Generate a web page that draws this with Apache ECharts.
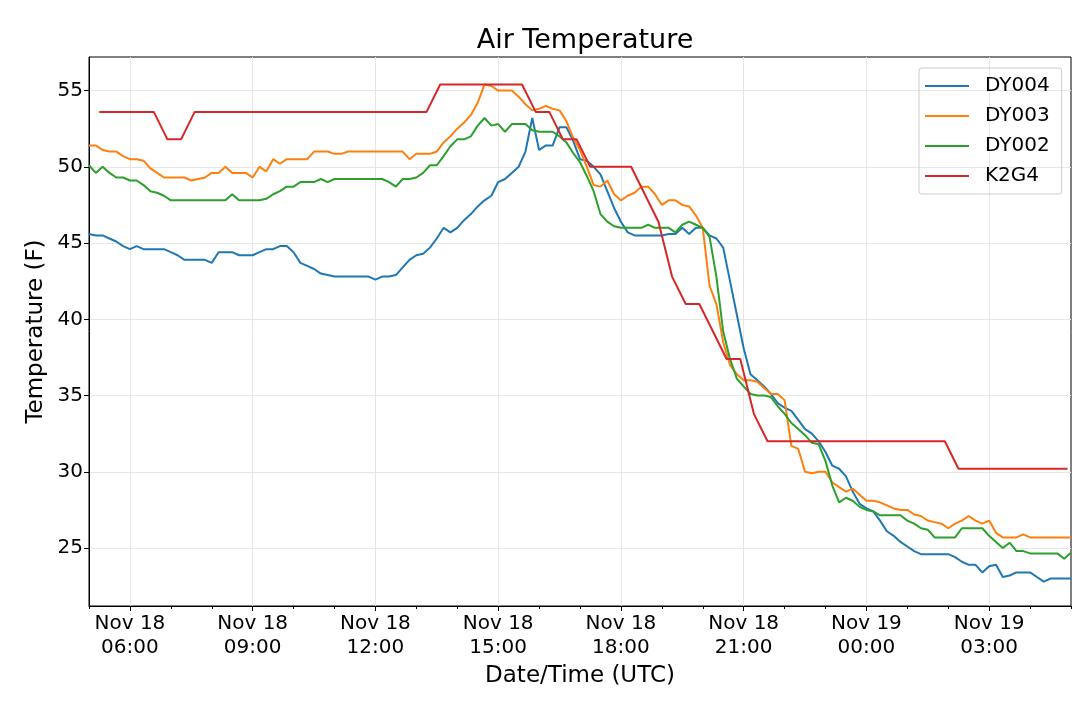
<!DOCTYPE html>
<html style="height: 100%">
<head>
<meta charset="utf-8" />
<title>Air Temperature</title>
<script type="text/javascript" src="https://cdn.jsdelivr.net/npm/echarts@6/dist/echarts.min.js"></script>
</head>
<body style="height: 100%; margin: 0; background: #fff">
<div id="container" style="width: 1080px; height: 702px"></div>
<script type="text/javascript">
// hours since Nov 18 00:00 UTC
var dyStartHour = 5;
var dyStepHour = 1 / 6;      // DY stations report every 10 min
var k2g4StartHour = 5.25;
var k2g4StepHour = 1 / 3;    // K2G4 every 20 min

var dy004 = [
  45.6, 45.5, 45.5, 45.3, 45.1, 44.8, 44.6, 44.8, 44.6, 44.6,
  44.6, 44.6, 44.4, 44.2, 43.9, 43.9, 43.9, 43.9, 43.7, 44.4,
  44.4, 44.4, 44.2, 44.2, 44.2, 44.4, 44.6, 44.6, 44.8, 44.8,
  44.4, 43.7, 43.5, 43.3, 43.0, 42.9, 42.8, 42.8, 42.8, 42.8,
  42.8, 42.8, 42.6, 42.8, 42.8, 42.9, 43.4, 43.9, 44.2, 44.3,
  44.7, 45.3, 46.0, 45.7, 46.0, 46.5, 46.9, 47.4, 47.8, 48.1,
  49.0, 49.2, 49.6, 50.0, 51.0, 53.2, 51.1, 51.4, 51.4, 52.6,
  52.6, 51.7, 50.5, 50.4, 50.0, 49.5, 48.4, 47.3, 46.4, 45.7,
  45.5, 45.5, 45.5, 45.5, 45.5, 45.6, 45.6, 46.0, 45.6, 46.0,
  46.0, 45.5, 45.3, 44.7, 42.5, 40.3, 38.1, 36.4, 36.0, 35.6,
  35.1, 34.5, 34.2, 34.0, 33.4, 32.8, 32.5, 32.0, 31.3, 30.4,
  30.2, 29.7, 28.7, 27.9, 27.6, 27.4, 26.8, 26.1, 25.8, 25.4,
  25.1, 24.8, 24.6, 24.6, 24.6, 24.6, 24.6, 24.4, 24.1, 23.9,
  23.9, 23.4, 23.8, 23.9, 23.1, 23.2, 23.4, 23.4, 23.4, 23.1,
  22.8, 23.0, 23.0, 23.0, 23.0
];

var dy003 = [
  51.4, 51.4, 51.1, 51.0, 51.0, 50.7, 50.5, 50.5, 50.4, 49.9,
  49.6, 49.3, 49.3, 49.3, 49.3, 49.1, 49.2, 49.3, 49.6, 49.6,
  50.0, 49.6, 49.6, 49.6, 49.3, 50.0, 49.7, 50.5, 50.2, 50.5,
  50.5, 50.5, 50.5, 51.0, 51.0, 51.0, 50.85, 50.85, 51.0, 51.0,
  51.0, 51.0, 51.0, 51.0, 51.0, 51.0, 51.0, 50.5, 50.85, 50.85,
  50.85, 51.0, 51.6, 52.0, 52.5, 52.9, 53.4, 54.2, 55.4, 55.3,
  55.0, 55.0, 55.0, 54.6, 54.1, 53.7, 53.8, 54.0, 53.8, 53.7,
  53.0, 51.9, 51.1, 50.0, 48.8, 48.7, 49.1, 48.2, 47.8, 48.1,
  48.3, 48.7, 48.7, 48.2, 47.5, 47.8, 47.8, 47.5, 47.4, 46.8,
  46.0, 42.2, 41.0, 38.5, 37.0, 36.4, 36.0, 36.0, 35.9, 35.5,
  35.1, 35.1, 34.7, 31.7, 31.5, 30.0, 29.9, 30.0, 30.0, 29.3,
  29.0, 28.7, 28.9, 28.5, 28.1, 28.1, 28.0, 27.8, 27.6, 27.5,
  27.5, 27.2, 27.1, 26.8, 26.7, 26.6, 26.3, 26.6, 26.8, 27.1,
  26.8, 26.6, 26.8, 26.0, 25.7, 25.7, 25.7, 25.9, 25.7, 25.7,
  25.7, 25.7, 25.7, 25.7, 25.7
];

var dy002 = [
  50.1, 49.6, 50.0, 49.6, 49.3, 49.3, 49.1, 49.1, 48.8, 48.4,
  48.3, 48.1, 47.8, 47.8, 47.8, 47.8, 47.8, 47.8, 47.8, 47.8,
  47.8, 48.2, 47.8, 47.8, 47.8, 47.8, 47.9, 48.2, 48.4, 48.7,
  48.7, 49.0, 49.0, 49.0, 49.2, 49.0, 49.2, 49.2, 49.2, 49.2,
  49.2, 49.2, 49.2, 49.2, 49.0, 48.7, 49.2, 49.2, 49.3, 49.6,
  50.1, 50.1, 50.7, 51.35, 51.8, 51.8, 52.0, 52.7, 53.2, 52.7,
  52.8, 52.3, 52.8, 52.8, 52.8, 52.4, 52.3, 52.3, 52.3, 52.0,
  51.6, 50.9, 50.3, 49.4, 48.4, 46.9, 46.4, 46.1, 46.0, 46.0,
  46.0, 46.0, 46.2, 46.0, 46.0, 46.0, 45.7, 46.2, 46.4, 46.2,
  46.0, 45.4, 42.8, 39.2, 37.4, 36.1, 35.6, 35.1, 35.0, 35.0,
  34.9, 34.3, 33.8, 33.2, 32.8, 32.4, 31.9, 31.8, 30.7, 29.1,
  28.0, 28.3, 28.1, 27.7, 27.5, 27.4, 27.15, 27.15, 27.15, 27.15,
  26.8, 26.6, 26.3, 26.2, 25.7, 25.7, 25.7, 25.7, 26.3, 26.3,
  26.3, 26.3, 25.8, 25.4, 25.0, 25.35, 24.8, 24.8, 24.65, 24.65,
  24.65, 24.65, 24.65, 24.3, 24.7
];

var k2g4 = [
  53.6, 53.6, 53.6, 53.6, 53.6, 51.8, 51.8, 53.6,
  53.6, 53.6, 53.6, 53.6, 53.6, 53.6, 53.6, 53.6, 53.6,
  53.6, 53.6, 53.6, 53.6, 53.6, 53.6, 53.6, 53.6,
  55.4, 55.4, 55.4, 55.4, 55.4, 55.4, 55.4,
  53.6, 53.6, 51.8, 51.8,
  50.0, 50.0, 50.0, 50.0, 48.2, 46.4, 42.8, 41.0, 41.0, 39.2, 37.4, 37.4, 33.8,
  32.0, 32.0, 32.0, 32.0, 32.0, 32.0, 32.0, 32.0, 32.0, 32.0, 32.0, 32.0, 32.0, 32.0,
  30.2, 30.2, 30.2, 30.2, 30.2, 30.2, 30.2, 30.2, 30.2
];

var seriesNames = ['DY004', 'DY003', 'DY002', 'K2G4'];
var seriesColors = ['#1f77b4', '#ff7f0e', '#2ca02c', '#d62728'];

var yMin = 21.2, yMax = 57.2;

// hourly positions for the x ticks, 0.2 F steps for the y ticks
var hourTicks = [];
for (var h = 5; h <= 29; h++) hourTicks.push(h);
var yLevels = [];
for (var k = 0; k <= Math.round((yMax - yMin) / 0.2); k++) yLevels.push((yMin + k * 0.2).toFixed(1));

function pairs(start, step, vals) {
  var out = [];
  for (var i = 0; i < vals.length; i++) out.push([start + i * step, vals[i]]);
  return out;
}

function timeLabel(v) {
  if (v % 3 !== 0) return '';
  var day = v >= 24 ? 19 : 18;
  var hh = v % 24;
  return 'Nov ' + day + '\n' + (hh < 10 ? '0' : '') + hh + ':00';
}

function isMajorX(idx) { return hourTicks[idx] % 3 === 0; }
function isMajorY(idx) { return Math.abs(parseFloat(yLevels[idx]) % 5) < 1e-6; }

var font = 'DejaVu Sans';
var gridColor = '#e6e6e6';
var myChart = echarts.init(document.getElementById('container'));

var option = {
  animation: false,
  backgroundColor: '#fff',
  textStyle: { fontFamily: font },
  title: {
    text: 'Air Temperature',
    left: 580,
    textAlign: 'center',
    top: 22,
    textStyle: { fontFamily: font, fontSize: 27, fontWeight: 'normal', color: '#000' }
  },
  legend: {
    orient: 'vertical',
    left: 919,
    top: 68,
    data: seriesNames,
    icon: 'rect',
    itemWidth: 44,
    itemHeight: 2,
    itemGap: 10,
    padding: [8, 12, 8, 6],
    borderColor: '#cccccc',
    borderWidth: 1,
    borderRadius: 3,
    textStyle: { fontFamily: font, fontSize: 20, color: '#000', padding: [0, 0, 0, 11] }
  },
  grid: { left: 89, right: 9, top: 57, bottom: 96, show: true, borderColor: '#000', borderWidth: 1 },
  xAxis: [{
    type: 'value',
    min: 5,
    max: 29,
    interval: 1,
    name: 'Date/Time (UTC)',
    nameLocation: 'middle',
    nameGap: 57,
    nameTextStyle: { fontFamily: font, fontSize: 23, color: '#000' },
    axisLine: { lineStyle: { color: '#000', width: 1 } },
    axisTick: { length: 3, lineStyle: { color: '#000' } },
    axisLabel: { formatter: timeLabel, fontFamily: font, fontSize: 20, color: '#000', lineHeight: 24, margin: 6 },
    splitLine: { show: false }
  }, {
    type: 'category',
    data: hourTicks,
    boundaryGap: false,
    position: 'bottom',
    axisLine: { show: false },
    axisTick: { show: true, length: 5, interval: isMajorX, lineStyle: { color: '#000' } },
    axisLabel: { show: false, interval: isMajorX },
    splitLine: { show: true, interval: isMajorX, lineStyle: { color: gridColor, width: 1 } }
  }],
  yAxis: [{
    type: 'value',
    min: yMin,
    max: yMax,
    name: 'Temperature (F)',
    nameLocation: 'middle',
    nameGap: 41,
    nameTextStyle: { fontFamily: font, fontSize: 23, color: '#000' },
    axisLine: { show: true, lineStyle: { color: '#000' } },
    axisTick: { show: false },
    axisLabel: { show: false },
    splitLine: { show: false }
  }, {
    type: 'category',
    data: yLevels,
    boundaryGap: false,
    position: 'left',
    axisLine: { show: false },
    axisTick: { show: true, length: 5, interval: isMajorY, lineStyle: { color: '#000' } },
    axisLabel: {
      interval: isMajorY,
      formatter: function (v) { return String(Math.round(parseFloat(v))); },
      fontFamily: font, fontSize: 20, color: '#000', margin: 6
    },
    splitLine: { show: true, interval: isMajorY, lineStyle: { color: gridColor, width: 1 } }
  }],
  series: [
    { name: 'DY004', type: 'line', data: pairs(dyStartHour, dyStepHour, dy004) },
    { name: 'DY003', type: 'line', data: pairs(dyStartHour, dyStepHour, dy003) },
    { name: 'DY002', type: 'line', data: pairs(dyStartHour, dyStepHour, dy002) },
    { name: 'K2G4', type: 'line', data: pairs(k2g4StartHour, k2g4StepHour, k2g4) }
  ].map(function (s, i) {
    s.xAxisIndex = 0;
    s.yAxisIndex = 0;
    s.symbol = 'none';
    s.color = seriesColors[i];
    s.lineStyle = { width: 2, color: seriesColors[i] };
    return s;
  })
};

myChart.setOption(option);
</script>
</body>
</html>
